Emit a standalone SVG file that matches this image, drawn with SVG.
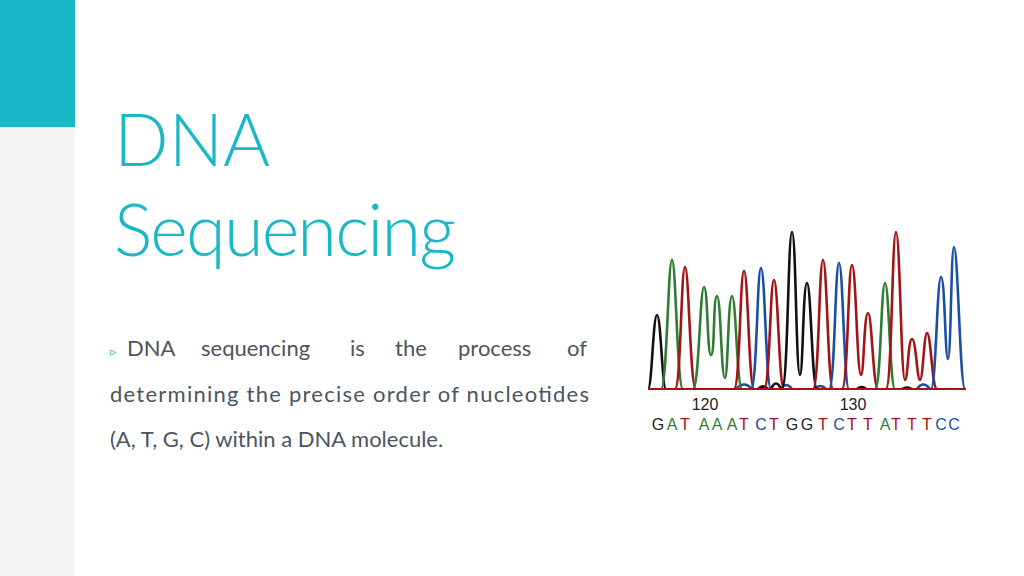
<svg xmlns="http://www.w3.org/2000/svg" width="1024" height="576" viewBox="0 0 1024 576">
<style>
.t{font-family:Lato,"Open Sans",sans-serif;font-size:22px;fill:#4b5563}
.p{fill:none;stroke-width:2.6;stroke-linejoin:round}
.k{stroke:#111}.g{stroke:#2e7d32}.r{stroke:#a31515}.b{stroke:#1a4fa8}
.s{font-family:"Liberation Sans",Arial,sans-serif;font-size:16px}
</style>
<rect width="1024" height="576" fill="#fff"/>
<rect x="0" y="0" width="75" height="576" fill="#f3f3f3"/>
<rect x="0" y="0" width="75" height="127" fill="#1ab8c6"/>
<g id="title" font-family="Lato,'Open Sans',sans-serif" font-weight="300" font-size="72" fill="#1ab8c6">
<text x="114" y="166">DNA</text>
<text x="114" y="256" textLength="342">Sequencing</text>
</g>
<g id="body">
<text class="t" x="110" y="356" font-size="13" fill="#1ab8c6" style="fill:#1ab8c6;font-size:13px">▹</text>
<text class="t" x="127" y="356">DNA</text>
<text class="t" x="201" y="356">sequencing</text>
<text class="t" x="350" y="356">is</text>
<text class="t" x="395" y="356">the</text>
<text class="t" x="458" y="356">process</text>
<text class="t" x="567" y="356">of</text>
<text class="t" x="110" y="402" textLength="479">determining the precise order of nucleotides</text>
<text class="t" x="110" y="447">(A, T, G, C) within a DNA molecule.</text>
</g>
<g id="chromatogram">
<path class="p b" d="M736 389 Q744 380 752 389 M781 389 Q786 381 792 389 M815 389 Q820 383 826 389 M917 389 Q923 380 930 389"/>
<path class="p k" d="M758 389 Q763 384 768 389 M771 389 Q776 378 781 389 M857 389 Q862 385 866 389 M902 389 Q907 386 912 389"/>
<path class="p k" d="M648 389 C652 389 653 315 657 315 C661 315 662 389 666 389"/>
<path class="p g" d="M661 389 C667 389 668 260 672 260 C676 260 677 389 683 389"/>
<path class="p r" d="M675 389 C681 389 681 267 685 267 C689 267 690 389 696 389"/>
<path class="p g" d="M693 389 C699 389 700 287 704 287 C708 287 707 355 711 355 C715 355 713 296 717 296 C721 296 721 378 725 378 C728 378 728 296 732 296 C736 296 737 389 742 389"/>
<path class="p r" d="M734 389 C740 389 740 271 744 271 C748 271 749 389 754 389"/>
<path class="p b" d="M751 389 C757 389 757 268 761 268 C765 268 766 389 771 389"/>
<path class="p r" d="M764 389 C770 389 770 280 774 280 C778 280 779 389 784 389"/>
<path class="p k" d="M782 389 C788 389 788 232 792 232 C796 232 796 375 800 375 C803 375 803 283 807 283 C811 283 812 389 817 389"/>
<path class="p r" d="M813 389 C819 389 819 260 823 260 C827 260 828 389 833 389"/>
<path class="p b" d="M829 389 C835 389 835 263 839 263 C843 263 844 389 849 389"/>
<path class="p r" d="M842 389 C848 389 848 265 852 265 C856 265 857 375 861 375 C864 375 864 313 868 313 C872 313 873 389 878 389"/>
<path class="p g" d="M875 389 C881 389 881 283 885 283 C889 283 890 389 895 389"/>
<path class="p r" d="M886 389 C892 389 892 232 896 232 C900 232 901 380 905 380 C908 380 908 339 912 339 C916 339 917 380 920 380 C923 380 924 333 927 333 C931 333 932 389 937 389"/>
<path class="p b" d="M931 389 C936 389 937 277 941 277 C945 277 945 359 948 359 C951 359 951 247 954 247 C958 247 960 389 965 389"/>
<line x1="648" y1="389" x2="966" y2="389" stroke="#a31515" stroke-width="2"/>
<text class="s" x="705" y="410" text-anchor="middle" fill="#222">120</text>
<text class="s" x="853" y="410" text-anchor="middle" fill="#222">130</text>
<g class="s" text-anchor="middle">
<text x="658" y="430" fill="#222">G</text><text x="672" y="430" fill="#2e7d32">A</text><text x="685" y="430" fill="#a31515">T</text>
<text x="704" y="430" fill="#2e7d32">A</text><text x="717" y="430" fill="#2e7d32">A</text><text x="732" y="430" fill="#2e7d32">A</text><text x="744" y="430" fill="#a31515">T</text>
<text x="761" y="430" fill="#1a4fa8">C</text><text x="774" y="430" fill="#a31515">T</text>
<text x="792" y="430" fill="#222">G</text><text x="807" y="430" fill="#222">G</text><text x="823" y="430" fill="#a31515">T</text><text x="839" y="430" fill="#1a4fa8">C</text><text x="852" y="430" fill="#a31515">T</text><text x="868" y="430" fill="#a31515">T</text>
<text x="885" y="430" fill="#2e7d32">A</text><text x="896" y="430" fill="#a31515">T</text><text x="912" y="430" fill="#a31515">T</text><text x="927" y="430" fill="#a31515">T</text><text x="941" y="430" fill="#1a4fa8">C</text><text x="954" y="430" fill="#1a4fa8">C</text>
</g>
</g>
</svg>
